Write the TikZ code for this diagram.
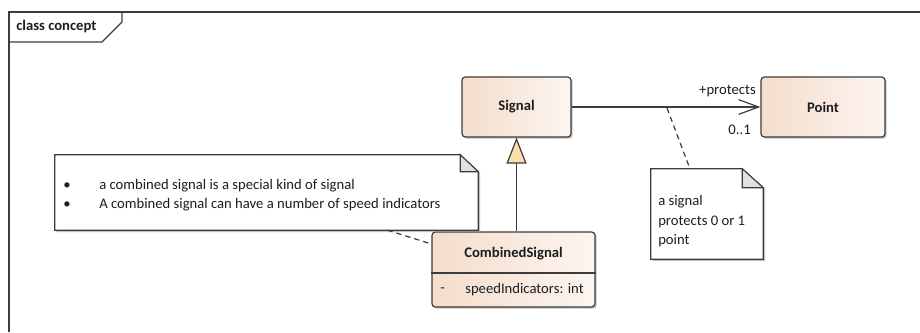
\documentclass[tikz,border=0pt]{standalone}
\usepackage{fontspec}
\setmainfont{Carlito}
\usetikzlibrary{arrows.meta,shadows,calc}
\definecolor{boxl}{RGB}{244,221,204}
\definecolor{boxr}{RGB}{252,245,240}
\definecolor{edge}{RGB}{60,60,60}
\definecolor{tri}{RGB}{251,222,172}
\definecolor{ear}{RGB}{225,225,225}
\definecolor{txt}{RGB}{30,30,30}
\tikzset{
  shad/.style={drop shadow={shadow xshift=1.3pt,shadow yshift=-1.3pt,fill=black!40,opacity=0.6}},
  classbox/.style={draw=edge,line width=0.9pt,rounded corners=2.5pt,left color=boxl,right color=boxr,shad,
    font=\fontsize{11}{13}\selectfont\bfseries,text=txt},
  notebox/.style={draw=none,inner sep=0pt},
  noteline/.style={draw=edge,line width=0.8pt,fill=white},
  eartri/.style={draw=edge,line width=0.8pt,fill=ear},
  lbl/.style={font=\fontsize{11}{13}\selectfont,text=txt,inner sep=0pt},
  conn/.style={draw=edge,line width=0.9pt}
}
\begin{document}
\begin{tikzpicture}[x=0.75pt,y=-0.75pt]
\useasboundingbox (0,0) rectangle (920,332);
% frame
\coordinate (fbl) at (9,332);
\coordinate (ftl) at (9,12);
\coordinate (ftr) at (920,12);
\draw[edge,line width=1.1pt] (fbl) -- (ftl) -- (ftr);
\coordinate (t1) at (9,42);
\coordinate (t2) at (102,42);
\coordinate (t3) at (122,22);
\coordinate (t4) at (122,12);
\draw[edge,line width=0.9pt] (t1) -- (t2) -- (t3) -- (t4);
\node[lbl,font=\fontsize{11}{13}\selectfont\bfseries,anchor=west] (ftitle) at (16,27) {class concept};

% classes
\node[classbox,minimum width=81.75pt,minimum height=45pt] (sig) at (516.5,107) {Signal};
\node[classbox,minimum width=93pt,minimum height=45pt] (pt) at (823,107) {Point};
\node[classbox,minimum width=122.25pt,minimum height=56.25pt] (cs) at (513.5,269.5) {};
\node[lbl,font=\fontsize{11}{13}\selectfont\bfseries] (cst) at (513.5,254) {CombinedSignal};
\draw[edge,line width=0.9pt] (cs.west |- 0,273) -- (cs.east |- 0,273);
\node[lbl,anchor=west] (csm) at (440,290) {-};
\node[lbl,anchor=west] (csa) at (465,290) {speedIndicators: int};

% notes
\node[notebox,minimum width=317.25pt,minimum height=56.25pt] (n1) at (266.5,192.5) {};
\path[noteline,shad] (n1.north west) -- ([xshift=-13.5pt]n1.north east) -- ([yshift=-12.75pt]n1.north east) -- (n1.south east) -- (n1.south west) -- cycle;
\path[eartri] ([xshift=-13.5pt]n1.north east) -- ([xshift=-13.5pt,yshift=-12.75pt]n1.north east) -- ([yshift=-12.75pt]n1.north east) -- cycle;
\node[lbl,anchor=west] (b1) at (63,186) {•};
\node[lbl,anchor=west] (l1) at (99,186) {a combined signal is a special kind of signal};
\node[lbl,anchor=west] (b2) at (63,205) {•};
\node[lbl,anchor=west] (l2) at (99,205) {A combined signal can have a number of speed indicators};

\node[notebox,minimum width=84pt,minimum height=67.5pt] (n2) at (707,214) {};
\path[noteline,shad] (n2.north west) -- ([xshift=-15.75pt]n2.north east) -- ([yshift=-14.25pt]n2.north east) -- (n2.south east) -- (n2.south west) -- cycle;
\path[eartri] ([xshift=-15.75pt]n2.north east) -- ([xshift=-15.75pt,yshift=-14.25pt]n2.north east) -- ([yshift=-14.25pt]n2.north east) -- cycle;
\node[lbl,anchor=west] (m1) at (658,202) {a signal};
\node[lbl,anchor=west] (m2) at (658,222) {protects 0 or 1};
\node[lbl,anchor=west] (m3) at (658,241) {point};

% connectors
\draw[conn,-{Straight Barb[length=15pt,width=11pt,line width=0.9pt]}] (sig.east) -- (pt.west);
\node[lbl,anchor=east] (rl) at (756,91) {+protects};
\node[lbl,anchor=east] (ml) at (751,130) {0..1};
\draw[conn,-{Triangle[length=19.5pt,width=15pt,fill=tri,line width=0.9pt]}] (sig.south |- cs.north) -- (sig.south);
\coordinate (a1) at (667,108);
\draw[conn,dashed,dash pattern=on 4pt off 3pt] (a1) -- (n2);
\draw[conn,dashed,dash pattern=on 4pt off 3pt] (n1) -- (cs);
\end{tikzpicture}
\end{document}
